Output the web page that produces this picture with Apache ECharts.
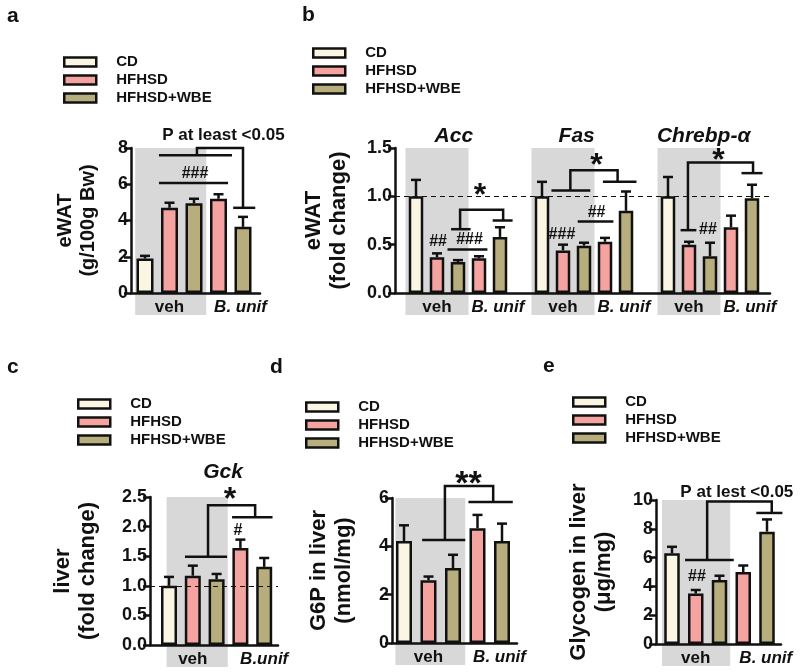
<!DOCTYPE html>
<html>
<head>
<meta charset="utf-8">
<script src="https://cdn.jsdelivr.net/npm/echarts@6/dist/echarts.min.js"></script>
<style>
  html, body { margin: 0; padding: 0; background: #fff; }
  #chart { width: 800px; height: 672px; }
</style>
</head>
<body>
<div id="chart"></div>
<script>
// groups shown in every legend
const groups = ['CD', 'HFHSD', 'HFHSD+WBE'];
const groupColors = ['#fbf6e3', '#f4a3a1', '#b8ad7d'];
// slot order in each gene block: CD, HFHSD veh, WBE veh, HFHSD B.unif, WBE B.unif
const slotGroups = [0, 1, 2, 1, 2];

// a: eWAT (g/100g Bw)
const eWAT = [1.9, 4.7, 4.95, 5.2, 3.65];
const eWATErr = [0.15, 0.28, 0.25, 0.25, 0.55];
// b: eWAT fold change
const accFold = [1.0, 0.37, 0.32, 0.36, 0.58];
const accErr = [0.17, 0.04, 0.02, 0.02, 0.1];
const fasFold = [1.0, 0.44, 0.49, 0.53, 0.85];
const fasErr = [0.15, 0.06, 0.03, 0.04, 0.2];
const chrebpFold = [1.0, 0.5, 0.38, 0.68, 0.98];
const chrebpErr = [0.2, 0.03, 0.14, 0.12, 0.14];
// c: liver Gck fold change
const gckFold = [1.0, 1.17, 1.11, 1.64, 1.32];
const gckErr = [0.15, 0.17, 0.09, 0.14, 0.15];
// d: G6P in liver (nmol/mg)
const g6p = [4.22, 2.6, 3.1, 4.75, 4.22];
const g6pErr = [0.65, 0.15, 0.55, 0.55, 0.72];
// e: glycogen in liver (ug/mg)
const glycogen = [6.3, 3.5, 4.44, 5.0, 7.8];
const glycogenErr = [0.45, 0.25, 0.3, 0.45, 0.85];

// tick labels
const ticksA = ['0', '2', '4', '6', '8'];
const ticksB = ['0.0', '0.5', '1.0', '1.5'];
const ticksC = ['0.0', '0.5', '1.0', '1.5', '2.0', '2.5'];
const ticksD = ['0', '2', '4', '6'];
const ticksE = ['0', '2', '4', '6', '8', '10'];

const FONT = 'Liberation Sans, Arial, sans-serif';
const INK = '#111';

// gene blocks of panel b joined with an empty slot between them
const bValues = [...accFold, null, ...fasFold, null, ...chrebpFold];
const bErrors = [...accErr, null, ...fasErr, null, ...chrebpErr];
const bGroups = [...slotGroups, null, ...slotGroups, null, ...slotGroups];

const panels = [
  {
    key: 'a', values: eWAT, errors: eWATErr, groupsOf: slotGroups, ticks: ticksA,
    yName: 'eWAT\n(g/100g Bw)', nameGap: 31, nameSize: 20,
    axisX: 131, axisEnd: 260, top: 148, bottom: 293, slot0: 145, slotW: 24.5, barW: 17,
    legend: [63, 54], label: [7, 6], bands: [[-0.4, 2.5]],
    annots: [
      {line: [[0.57, 6.07], [3.39, 6.07]]},
      {text: '###', at: [2.04, 6.6], size: 16},
      {line: [[0.57, 7.6], [3.55, 7.6]]},
      {line: [[2.12, 7.6], [2.12, 8.0], [4.0, 8.0], [4.0, 4.7]]},
      {line: [[3.6, 4.7], [4.5, 4.7]]},
      {text: 'P at least <0.05', at: [3.2, 8.72], size: 17},
      {text: 'veh', at: [1, 0], dy: 14, size: 17},
      {text: 'B. unif', at: [3.9, 0], dy: 14, size: 17, italic: true}
    ]
  },
  {
    key: 'b', values: bValues, errors: bErrors, groupsOf: bGroups, ticks: ticksB,
    yName: 'eWAT\n(fold change)', nameGap: 44, nameSize: 22, refLine: 1,
    axisX: 395, axisEnd: 770, top: 148, bottom: 293, slot0: 416, slotW: 21, barW: 14.5,
    legend: [312, 45], label: [302, 5], bands: [[-0.5, 2.5], [5.5, 8.5], [11.5, 14.5]],
    annots: [
      {text: 'Acc', at: [1.8, 1.62], size: 21, italic: true},
      {text: 'Fas', at: [7.65, 1.62], size: 21, italic: true},
      {text: 'Chrebp-\u03b1', at: [13.7, 1.62], size: 21, italic: true},
      // Acc
      {text: '##', at: [1.05, 0.53], size: 16},
      {line: [[1.5, 0.45], [3.4, 0.45]]},
      {text: '###', at: [2.55, 0.55], size: 16},
      {line: [[1.67, 0.66], [2.6, 0.66]]},
      {line: [[2.1, 0.66], [2.1, 0.86], [4.15, 0.86], [4.15, 0.75]]},
      {line: [[3.65, 0.75], [4.6, 0.75]]},
      {text: '*', at: [3.05, 1.07], size: 32, dy: 7},
      // Fas
      {text: '###', at: [6.95, 0.6], size: 16},
      {line: [[7.7, 0.74], [9.4, 0.74]]},
      {text: '##', at: [8.6, 0.83], size: 16},
      {line: [[6.45, 1.06], [8.3, 1.06]]},
      {line: [[7.35, 1.06], [7.35, 1.27], [9.6, 1.27], [9.6, 1.15]]},
      {line: [[8.9, 1.15], [10.5, 1.15]]},
      {text: '*', at: [8.6, 1.38], size: 32, dy: 7},
      // Chrebp
      {line: [[12.6, 0.65], [13.35, 0.65]]},
      {line: [[12.95, 0.65], [12.95, 1.35], [16.05, 1.35], [16.05, 1.24]]},
      {line: [[15.5, 1.24], [16.5, 1.24]]},
      {text: '*', at: [14.4, 1.44], size: 32, dy: 7},
      {text: '##', at: [13.9, 0.66], size: 16},
      {text: 'veh', at: [1, 0], dy: 14, size: 17},
      {text: 'B. unif', at: [3.9, 0], dy: 14, size: 17, italic: true},
      {text: 'veh', at: [7, 0], dy: 14, size: 17},
      {text: 'B. unif', at: [9.9, 0], dy: 14, size: 17, italic: true},
      {text: 'veh', at: [13, 0], dy: 14, size: 17},
      {text: 'B. unif', at: [15.9, 0], dy: 14, size: 17, italic: true}
    ]
  },
  {
    key: 'c', values: gckFold, errors: gckErr, groupsOf: slotGroups, ticks: ticksC,
    yName: 'liver\n(fold change)', nameGap: 50, nameSize: 22, refLine: 1,
    axisX: 150, axisEnd: 278, top: 497, bottom: 645, slot0: 169, slotW: 23.8, barW: 16,
    legend: [77, 396], label: [7, 357], bands: [[-0.1, 2.47]],
    annots: [
      {text: 'Gck', at: [2.27, 2.92], size: 21, italic: true},
      {line: [[0.67, 1.49], [2.44, 1.49]]},
      {line: [[1.64, 1.49], [1.64, 2.36], [3.62, 2.36], [3.62, 2.16]]},
      {line: [[2.65, 2.16], [4.35, 2.16]]},
      {text: '*', at: [2.56, 2.57], size: 32, dy: 7},
      {text: '#', at: [2.9, 1.94], size: 16},
      {text: 'veh', at: [1, 0], dy: 14, size: 17},
      {text: 'B.unif', at: [4.0, 0], dy: 14, size: 17, italic: true}
    ]
  },
  {
    key: 'd', values: g6p, errors: g6pErr, groupsOf: slotGroups, ticks: ticksD,
    yName: 'G6P in liver\n(nmol/mg)', nameGap: 36, nameSize: 22,
    axisX: 392, axisEnd: 517, top: 498, bottom: 643, slot0: 404, slotW: 24.5, barW: 16,
    legend: [305, 399], label: [270, 357], bands: [[-0.35, 2.5]],
    annots: [
      {line: [[0.74, 4.26], [2.5, 4.26]]},
      {line: [[1.67, 4.26], [1.67, 6.5], [3.64, 6.5], [3.64, 5.83]]},
      {line: [[2.63, 5.83], [4.44, 5.83]]},
      {text: '**', at: [2.63, 6.9], size: 34, dy: 8},
      {text: 'veh', at: [1, 0], dy: 14, size: 17},
      {text: 'B. unif', at: [3.9, 0], dy: 14, size: 17, italic: true}
    ]
  },
  {
    key: 'e', values: glycogen, errors: glycogenErr, groupsOf: slotGroups, ticks: ticksE,
    yName: 'Glycogen in liver\n(\u03bcg/mg)', nameGap: 40, nameSize: 22,
    axisX: 656, axisEnd: 781, top: 500, bottom: 644, slot0: 672, slotW: 23.75, barW: 15.5,
    legend: [572, 394], label: [543, 356], bands: [[-0.42, 2.45]],
    annots: [
      {line: [[0.55, 5.83], [2.6, 5.83]]},
      {line: [[1.48, 5.83], [1.48, 9.9], [4.2, 9.9], [4.2, 9.1]]},
      {line: [[3.55, 9.1], [4.65, 9.1]]},
      {text: '##', at: [1.05, 4.65], size: 16},
      {text: 'P at lest <0.05', at: [2.73, 10.55], size: 17},
      {text: 'veh', at: [1, 0], dy: 14, size: 17},
      {text: 'B. unif', at: [3.95, 0], dy: 14, size: 17, italic: true}
    ]
  }
];

// maps (slot, value) to pixels; slots may be fractional
function mapper(api) {
  const x0 = api.coord([0, 0])[0];
  const bw = api.size([1, 0])[0];
  return (s, v) => [x0 + s * bw, api.coord([0, v])[1]];
}

const option = {
  animation: false,
  backgroundColor: '#fff',
  textStyle: {fontFamily: FONT},
  title: [], legend: [], grid: [], xAxis: [], yAxis: [], series: []
};

panels.forEach((p, i) => {
  const fi = 2 * i, di = 2 * i + 1;
  const ymax = parseFloat(p.ticks[p.ticks.length - 1]);
  const step = parseFloat(p.ticks[1]) - parseFloat(p.ticks[0]);
  const nSlots = p.values.length;
  const gridTop = p.top, gridH = p.bottom - p.top;

  option.title.push({
    text: p.key, left: p.label[0], top: p.label[1], padding: 0,
    textStyle: {fontSize: 21, fontWeight: 'bold', color: INK, fontFamily: FONT}
  });
  option.legend.push({
    orient: 'vertical', left: p.legend[0], top: p.legend[1], padding: 0,
    itemWidth: 32, itemHeight: 9, itemGap: 2, icon: 'rect', selectedMode: false,
    data: groups,
    itemStyle: {borderColor: INK, borderWidth: 2.5},
    textStyle: {fontSize: 15, fontWeight: 'bold', color: INK, lineHeight: 16,
      padding: [0, 0, 0, 15], fontFamily: FONT}
  });

  // frame grid: visible axes
  option.grid.push({left: p.axisX, top: gridTop, width: p.axisEnd - p.axisX, height: gridH,
    outerBoundsMode: 'none', containLabel: false});
  // data grid: bars on slots
  option.grid.push({left: p.slot0 - p.slotW / 2, top: gridTop, width: nSlots * p.slotW, height: gridH,
    outerBoundsMode: 'none', containLabel: false});

  option.xAxis.push({
    gridIndex: fi, type: 'value', min: 0, max: 1, z: 10,
    axisLine: {show: true, onZero: false, lineStyle: {color: INK, width: 2.5}},
    axisTick: {show: false}, axisLabel: {show: false}, splitLine: {show: false}
  });
  option.xAxis.push({
    gridIndex: di, type: 'category', show: false,
    data: p.values.map((v, k) => 'slot' + k)
  });
  option.yAxis.push({
    gridIndex: fi, type: 'value', min: 0, max: ymax, interval: step, z: 10,
    axisLine: {show: true, lineStyle: {color: INK, width: 2.5}},
    axisTick: {show: true, length: 7, lineStyle: {color: INK, width: 2.5}},
    axisLabel: {fontSize: 18, fontWeight: 'bold', color: INK, margin: 3, fontFamily: FONT,
      formatter: (v) => p.ticks[Math.round(v / step)]},
    splitLine: {show: false},
    name: p.yName, nameLocation: 'middle', nameRotate: 90, nameGap: p.nameGap,
    nameTextStyle: {fontSize: p.nameSize, fontWeight: 'bold', color: INK,
      lineHeight: p.nameSize + 3, fontFamily: FONT}
  });
  option.yAxis.push({gridIndex: di, type: 'value', min: 0, max: ymax, show: false});

  // grey "veh" bands
  option.series.push({
    type: 'custom', xAxisIndex: di, yAxisIndex: di, z: 1, silent: true,
    data: p.bands.map(() => [0, 0]),
    renderItem: (params, api) => {
      const m = mapper(api);
      const b = p.bands[params.dataIndex];
      const tl = m(b[0], ymax), br = m(b[1], 0);
      return {type: 'rect', shape: {x: tl[0], y: tl[1], width: br[0] - tl[0], height: br[1] - tl[1] + 22},
        style: {fill: '#d8d8d8'}};
    }
  });

  groups.forEach((g, gi) => {
    option.series.push({
      type: 'bar', name: g, xAxisIndex: di, yAxisIndex: di, z: 2, silent: true,
      barWidth: p.barW, barGap: '-100%',
      data: p.values.map((v, k) => (p.groupsOf[k] === gi ? v : '-')),
      itemStyle: {color: groupColors[gi], borderColor: INK, borderWidth: 2.5}
    });
  });

  // error bars (upper only)
  option.series.push({
    type: 'custom', xAxisIndex: di, yAxisIndex: di, z: 3, silent: true,
    data: p.values.map((v, k) => [k, v, p.errors[k]]).filter((d) => d[1] != null),
    renderItem: (params, api) => {
      const a = api.coord([api.value(0), api.value(1)]);
      const b = api.coord([api.value(0), api.value(1) + api.value(2)]);
      const st = {stroke: INK, lineWidth: 2.5, fill: 'none'};
      return {type: 'group', children: [
        {type: 'line', shape: {x1: a[0], y1: a[1], x2: b[0], y2: b[1]}, style: st},
        {type: 'line', shape: {x1: b[0] - 5, y1: b[1], x2: b[0] + 5, y2: b[1]}, style: st}
      ]};
    }
  });

  // reference dashed line at 1.0
  if (p.refLine != null) {
    option.series.push({
      type: 'line', xAxisIndex: fi, yAxisIndex: fi, z: 5, silent: true, data: [],
      markLine: {symbol: 'none', silent: true, label: {show: false},
        lineStyle: {type: [5, 4], color: INK, width: 1.2},
        data: [{yAxis: p.refLine}]}
    });
  }

  // significance brackets and text
  option.series.push({
    type: 'custom', xAxisIndex: di, yAxisIndex: di, z: 6, silent: true,
    data: p.annots.map(() => [0, 0]),
    renderItem: (params, api) => {
      const m = mapper(api);
      const a = p.annots[params.dataIndex];
      if (a.line) {
        return {type: 'polyline', shape: {points: a.line.map((q) => m(q[0], q[1]))},
          style: {stroke: INK, lineWidth: 2.5, fill: 'none'}};
      }
      const pt = m(a.at[0], a.at[1]);
      return {type: 'text', x: pt[0], y: pt[1] + (a.dy || 0),
        style: {text: a.text, fontSize: a.size, fontWeight: 'bold', fontFamily: FONT,
          fontStyle: a.italic ? 'italic' : 'normal', fill: INK,
          align: 'center', verticalAlign: 'middle'}};
    }
  });
});

const chart = echarts.init(document.getElementById('chart'), null, {renderer: 'canvas'});
chart.setOption(option);
</script>
</body>
</html>
